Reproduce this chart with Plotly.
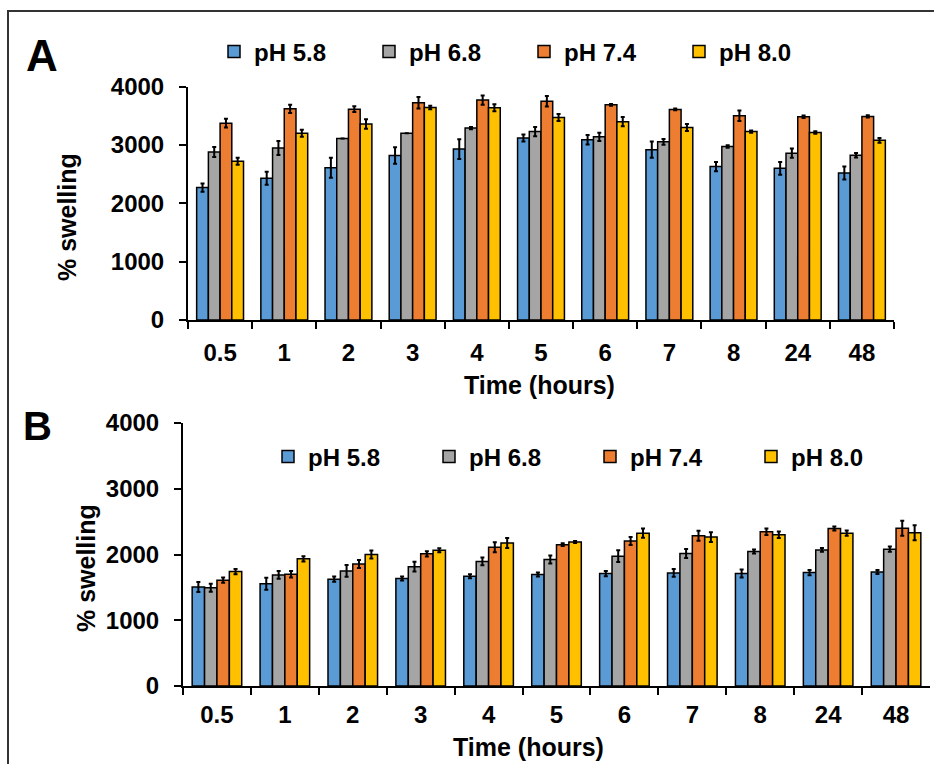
import plotly.graph_objects as go

times = ["0.5", "1", "2", "3", "4", "5", "6", "7", "8", "24", "48"]
series_names = ["pH 5.8", "pH 6.8", "pH 7.4", "pH 8.0"]
colors = ["#5B9BD5", "#A5A5A5", "#ED7D31", "#FFC000"]
y_ticks = [0, 1000, 2000, 3000, 4000]

# Panel A
a_ph58 = [2270, 2430, 2610, 2820, 2930, 3120, 3090, 2920, 2630, 2600, 2520]
a_ph58_err = [70, 110, 170, 140, 170, 60, 80, 140, 80, 110, 110]
a_ph68 = [2880, 2950, 3110, 3200, 3290, 3230, 3140, 3055, 2975, 2860, 2825]
a_ph68_err = [85, 120, 0, 0, 20, 80, 70, 50, 20, 80, 40]
a_ph74 = [3375, 3620, 3615, 3725, 3770, 3750, 3690, 3610, 3500, 3485, 3490]
a_ph74_err = [75, 70, 50, 100, 80, 90, 15, 15, 90, 20, 20]
a_ph80 = [2720, 3200, 3360, 3645, 3640, 3470, 3400, 3300, 3230, 3215, 3080]
a_ph80_err = [60, 60, 80, 30, 60, 60, 80, 60, 20, 20, 40]

# Panel B
b_ph58 = [1505, 1555, 1625, 1635, 1670, 1695, 1710, 1720, 1710, 1725, 1735]
b_ph58_err = [75, 90, 40, 30, 30, 30, 40, 60, 60, 40, 30]
b_ph68 = [1495, 1690, 1750, 1815, 1895, 1925, 1975, 2015, 2045, 2070, 2080]
b_ph68_err = [60, 60, 90, 75, 60, 60, 90, 70, 30, 30, 40]
b_ph74 = [1610, 1700, 1855, 2010, 2110, 2150, 2205, 2285, 2345, 2395, 2400]
b_ph74_err = [40, 50, 60, 40, 75, 20, 60, 75, 50, 30, 115]
b_ph80 = [1740, 1935, 2000, 2065, 2175, 2190, 2325, 2265, 2300, 2325, 2330]
b_ph80_err = [40, 40, 60, 30, 75, 15, 70, 75, 50, 40, 115]

panel_a = [(a_ph58, a_ph58_err), (a_ph68, a_ph68_err), (a_ph74, a_ph74_err), (a_ph80, a_ph80_err)]
panel_b = [(b_ph58, b_ph58_err), (b_ph68, b_ph68_err), (b_ph74, b_ph74_err), (b_ph80, b_ph80_err)]

W, H = 934, 764
FONT = "Liberation Sans, Arial, sans-serif"


def px(x):
    return x / W


def py(y):
    return 1 - y / H


fig = go.Figure()

for (vals, errs), name, col in zip(panel_a, series_names, colors):
    fig.add_trace(go.Bar(
        x=times, y=vals, name=name, xaxis="x", yaxis="y", legend="legend",
        marker=dict(color=col, line=dict(color="black", width=1.5)),
        error_y=dict(type="data", array=errs, visible=True, color="black", thickness=2, width=2),
    ))

for (vals, errs), name, col in zip(panel_b, series_names, colors):
    fig.add_trace(go.Bar(
        x=times, y=vals, name=name, xaxis="x2", yaxis="y2", legend="legend2",
        marker=dict(color=col, line=dict(color="black", width=1.5)),
        error_y=dict(type="data", array=errs, visible=True, color="black", thickness=2, width=2),
    ))

tickfont = dict(family=FONT, size=24, color="black", weight="bold")

xaxis_common = dict(
    type="category", showline=True, linecolor="black", linewidth=2,
    ticks="outside", ticklen=7, tickwidth=2, tickcolor="black", tickson="boundaries",
    showgrid=False, zeroline=False, tickfont=tickfont,
)
yaxis_common = dict(
    range=[0, 4000], tickvals=y_ticks, showline=True, linecolor="black", linewidth=2,
    ticks="outside", ticklen=7, tickwidth=2, tickcolor="black",
    showgrid=False, zeroline=False, tickfont=tickfont, ticklabelstandoff=10,
)

legend_font = dict(family=FONT, size=24, color="black", weight="bold")

fig.update_layout(
    width=W, height=H,
    margin=dict(l=0, r=0, t=0, b=0, autoexpand=False),
    paper_bgcolor="white", plot_bgcolor="white",
    barmode="group", bargap=0.27, bargroupgap=0,
    xaxis=dict(domain=[px(188), px(894)], anchor="y", ticklabelstandoff=10, **xaxis_common),
    yaxis=dict(domain=[py(320), py(86.7)], anchor="x", **yaxis_common),
    xaxis2=dict(domain=[px(183), px(930)], anchor="y2", ticklabelstandoff=6, **xaxis_common),
    yaxis2=dict(domain=[py(686), py(423)], anchor="x2", **yaxis_common),
    legend=dict(
        orientation="h", x=px(214), xanchor="left", y=py(52), yanchor="middle",
        font=legend_font, entrywidth=110, entrywidthmode="pixels",
        bgcolor="rgba(0,0,0,0)", itemclick=False, tracegroupgap=0,
    ),
    legend2=dict(
        orientation="h", x=px(268), xanchor="left", y=py(457), yanchor="middle",
        font=legend_font, entrywidth=116, entrywidthmode="pixels",
        bgcolor="rgba(0,0,0,0)", itemclick=False, tracegroupgap=0,
    ),
    showlegend=True,
)

title_font = dict(family=FONT, size=25, color="black", weight="bold")

annotations = [
    dict(text="A", x=px(42), y=py(56), font=dict(family=FONT, size=44, color="black", weight="bold")),
    dict(text="B", x=px(37), y=py(426), font=dict(family=FONT, size=40, color="black", weight="bold")),
    dict(text="Time (hours)", x=px(539), y=py(385), font=title_font),
    dict(text="Time (hours)", x=px(528), y=py(747), font=title_font),
    dict(text="% swelling", x=px(67), y=py(217), textangle=-90, font=title_font),
    dict(text="% swelling", x=px(86), y=py(568), textangle=-90, font=title_font),
]
for a in annotations:
    a.update(xref="paper", yref="paper", showarrow=False, xanchor="center", yanchor="middle")
fig.update_layout(annotations=annotations)

fig.add_shape(
    type="path", xref="paper", yref="paper",
    path=f"M {px(8)},0 L {px(8)},{py(11)} L 1,{py(11)}",
    line=dict(color="#333333", width=2),
)

fig.write_html("out.html")
